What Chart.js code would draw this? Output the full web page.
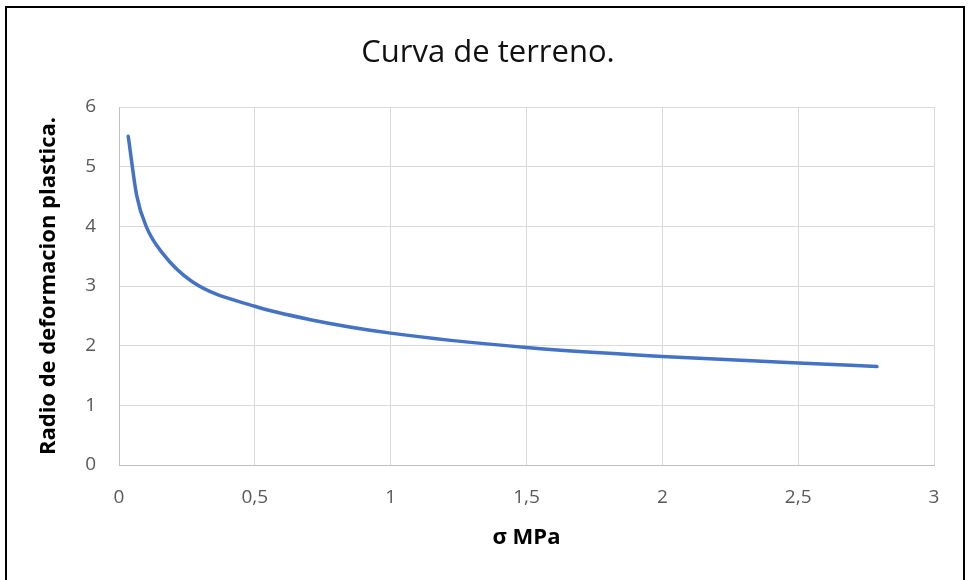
<!DOCTYPE html>
<html>
<head>
<meta charset="utf-8">
<script src="https://cdn.jsdelivr.net/npm/chart.js@4/dist/chart.umd.min.js"></script>
<style>
  html, body { margin: 0; padding: 0; background: #fff; }
  #wrap { position: relative; width: 970px; height: 580px; }
  #frame {
    position: absolute; left: 5px; top: 6px; width: 956px; height: 590px;
    border: 2px solid #000; pointer-events: none;
  }
</style>
</head>
<body>
<div id="wrap">
  <canvas id="terrainChart" width="970" height="580"></canvas>
  <div id="frame"></div>
</div>
<script>
/* ---------------- DATA ---------------- */

const sigmaValues = [0.034, 0.065, 0.1, 0.16, 0.27, 0.5, 0.7, 1.0, 1.5, 2.0, 2.5, 2.79];
const radioValues = [5.51, 4.52, 4.0, 3.55, 3.07, 2.66, 2.44, 2.21, 1.97, 1.82, 1.71, 1.65];

const xTicks = [0, 0.5, 1, 1.5, 2, 2.5, 3];
const yTicks = [0, 1, 2, 3, 4, 5, 6];

const chartTitle = "Curva de terreno.";
const xTitle = "σ MPa";
const yTitle = "Radio de deformacion plastica.";

/* ---------------- CHART ---------------- */

const points = sigmaValues.map((s, i) => ({ x: s, y: radioValues[i] }));

const fontFamily = "'Open Sans', 'Noto Sans', sans-serif";

// left padding shifts the centred title; the y axis fills the rest up to x=119
const padLeft = 42;

const ctx = document.getElementById("terrainChart");

new Chart(ctx, {
    type: "scatter",
    data: {
        datasets: [
            {
                label: yTitle,
                data: points,
                showLine: true,
                borderColor: "#4472C4",
                borderWidth: 3.5,
                pointRadius: 0,
                cubicInterpolationMode: "monotone",
                borderCapStyle: "round"
            }
        ]
    },
    options: {
        responsive: false,
        animation: false,
        layout: {
            padding: { left: padLeft, right: 36, top: 0, bottom: 0 }
        },
        plugins: {
            legend: { display: false },
            tooltip: { enabled: false },
            title: {
                display: true,
                text: chartTitle,
                color: "#111",
                font: { family: fontFamily, size: 31, weight: "normal" },
                padding: { top: 35, bottom: 34.8 }
            }
        },
        scales: {
            x: {
                type: "linear",
                min: 0,
                max: 3,
                afterBuildTicks: (s) => { s.ticks = xTicks.map(v => ({ value: v })); },
                afterFit: (s) => { s.height = 115; },
                ticks: {
                    color: "#595959",
                    font: { family: fontFamily, size: 19 },
                    padding: 21,
                    callback: (v) => String(v).replace(".", ",")
                },
                grid: { color: "#d9d9d9", lineWidth: 1, drawTicks: false },
                border: { color: "#bfbfbf", width: 1 },
                title: {
                    display: true,
                    text: xTitle,
                    color: "#000",
                    font: { family: fontFamily, size: 22, weight: "bold" },
                    padding: { top: 0, bottom: 29 }
                }
            },
            y: {
                type: "linear",
                min: 0,
                max: 6,
                afterBuildTicks: (s) => { s.ticks = yTicks.map(v => ({ value: v })); },
                afterFit: (s) => { s.width = 119 - padLeft; },
                ticks: {
                    color: "#595959",
                    font: { family: fontFamily, size: 19 },
                    padding: 23
                },
                grid: { color: "#d9d9d9", lineWidth: 1, drawTicks: false },
                border: { color: "#bfbfbf", width: 1 },
                title: {
                    display: true,
                    text: yTitle,
                    color: "#000",
                    font: { family: fontFamily, size: 22, weight: "bold" },
                    padding: { top: 49 - padLeft - 13.2, bottom: 0 }
                }
            }
        }
    }
});
</script>
</body>
</html>
